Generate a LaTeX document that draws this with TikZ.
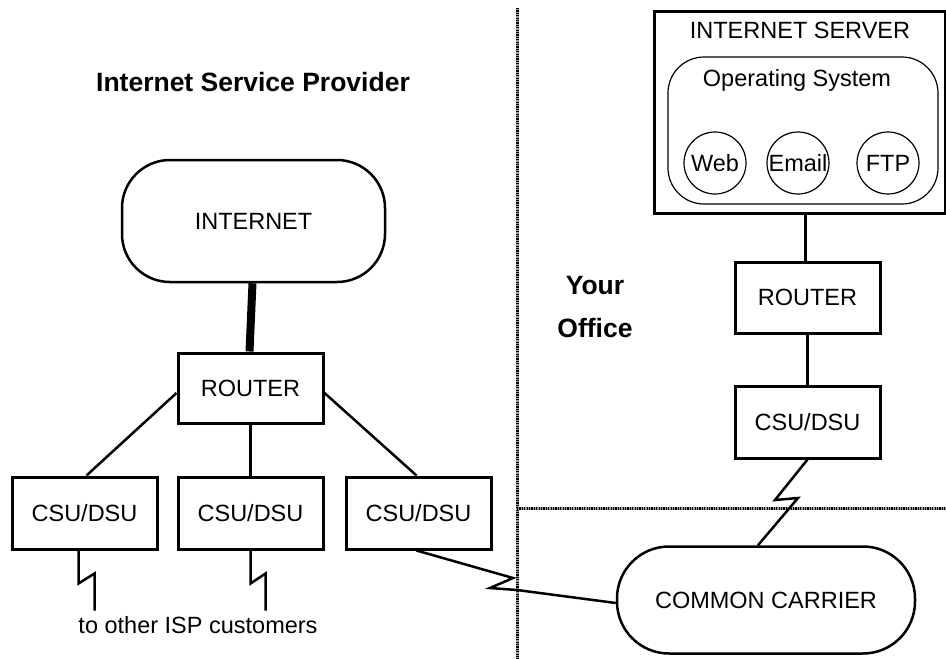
\documentclass[tikz,border=0pt]{standalone}
\usepackage{fontspec}
\setmainfont{Liberation Sans}
\usetikzlibrary{positioning}

\begin{document}
\begin{tikzpicture}[x=1pt, y=-1pt,
  box/.style={draw=black, line width=3pt, minimum width=145pt, minimum height=71pt,
    font=\fontsize{23.5}{28}\selectfont, inner sep=0pt},
  pill/.style={draw=black, line width=2.5pt, rounded corners=48pt,
    font=\fontsize{23.5}{28}\selectfont, inner sep=0pt},
  svc/.style={draw=black, line width=1.2pt, circle, minimum size=62pt, inner sep=0pt,
    font=\fontsize{23.5}{28}\selectfont},
  txt/.style={font=\fontsize{23.5}{28}\selectfont, inner sep=0pt},
  hdr/.style={font=\fontsize{26.5}{43}\selectfont\bfseries, align=center, inner sep=0pt},
  ln/.style={line width=2.5pt, black},
  bolt/.style={line width=2.5pt, black, line join=miter},
  wall/.style={line width=3pt, black!40,
    postaction={draw, black, line width=3pt, dash pattern=on 1.2pt off 1.2pt}}
]
  \useasboundingbox (0,0) rectangle (946,659);

  % boundary between the provider and the office
  \coordinate (wtop) at (517,8);
  \coordinate (wbot) at (517,659);
  \coordinate (wmid) at (517,508);
  \coordinate (wend) at (946,508);
  \draw[wall] (wtop) -- (wbot);
  \draw[wall] (wmid) -- (wend);

  % provider side
  \node[hdr] (isp) at (253,82) {Internet Service Provider};
  \node[pill, minimum width=263pt, minimum height=122pt] (net) at (253.5,221) {INTERNET};
  \node[box, minimum height=70pt] (rA) at (250.5,388) {ROUTER};
  \node[box, minimum height=72pt, below=51pt of rA] (cB) {CSU/DSU};
  \node[box, minimum height=72pt, left=18pt of cB] (cA) {CSU/DSU};
  \node[box, minimum height=72pt, right=20pt of cB] (cC) {CSU/DSU};
  \node[txt] (cust) at (198,625) {to other ISP customers};

  \draw[line width=8pt] ([xshift=-1pt]net.south) -- ([xshift=-1pt]rA.north);
  \draw[ln] ([yshift=-5pt]rA.west) -- ([xshift=2pt]cA.north);
  \draw[ln] (rA.south) -- (cB.north);
  \draw[ln] ([yshift=-5pt]rA.east) -- ([xshift=-2pt]cC.north);
  \draw[bolt] ([xshift=-6pt]cA.south) -- ++(0,33) -- ++(16,-10) -- ++(0,37);
  \draw[bolt] (cB.south) -- ++(0,33) -- ++(15,-10) -- ++(0,37);

  % office side
  \node[hdr] (ofc) at (595,307) {Your\\Office};
  \node[draw=black, line width=3pt, minimum width=291pt, minimum height=202pt] (srv) at (799.5,112) {};
  \node[txt] (srvT) at (800,30) {INTERNET SERVER};
  \node[draw=black, line width=1.2pt, rounded corners=36pt, minimum width=270pt,
    minimum height=147pt] (os) at (803,130.5) {};
  \node[txt] (osT) at (797,80) {Operating System};
  \node[svc] (web) at (715,163) {Web};
  \node[svc] (mail) at (798,163) {Email};
  \node[svc] (ftp) at (888,163) {FTP};

  \node[box] (rB) at (807.5,297.5) {ROUTER};
  \node[box, minimum height=72pt, below=50pt of rB] (cD) {CSU/DSU};
  \node[pill, minimum width=298pt, minimum height=107pt, rounded corners=52pt] (cc) at (766,600) {COMMON CARRIER};

  \draw[ln] ([xshift=-2pt]rB.north) -- ([xshift=-2pt]rB.north |- srv.south);
  \draw[ln] (rB.south) -- (cD.north);
  \draw[bolt] (cD.south) -- (775,500) -- (798,498) -- ([xshift=-8pt]cc.north);
  \draw[bolt] ([xshift=-2pt]cC.south) -- (513,578) -- (490,588) -- (517,590) -- ([yshift=-3pt]cc.west);
\end{tikzpicture}
\end{document}
